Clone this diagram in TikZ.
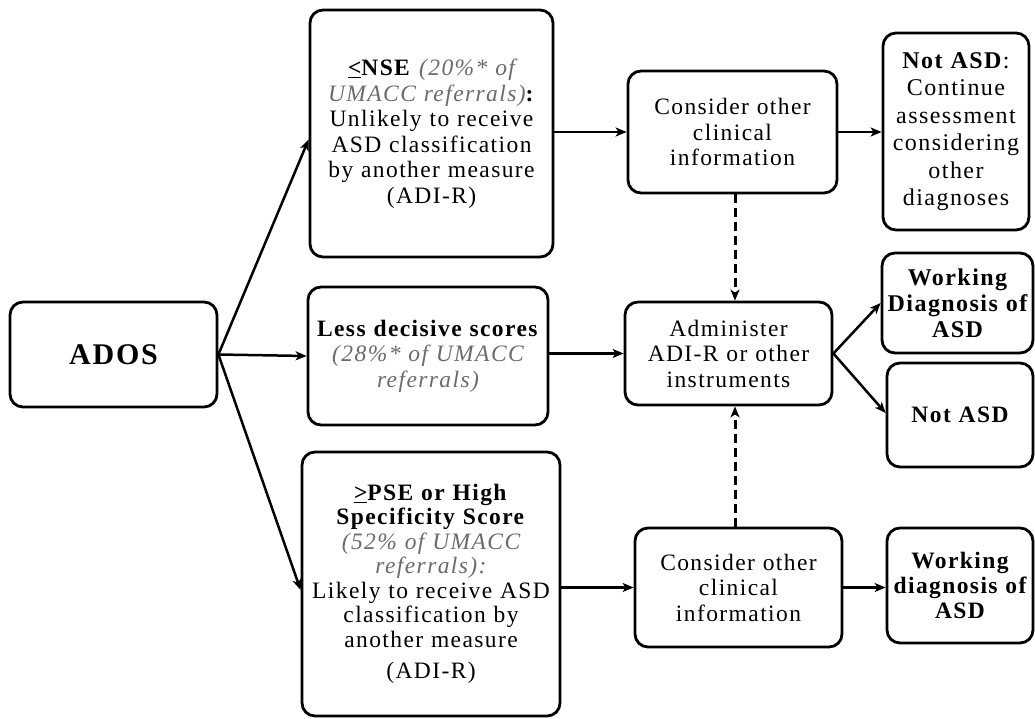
\documentclass[tikz,border=0pt]{standalone}
\usepackage{fontspec}
\setmainfont{Liberation Serif}[LetterSpace=6]
\usetikzlibrary{arrows.meta,calc}
\definecolor{tgray}{gray}{0.42}
\newcommand{\grit}{\color{tgray}\itshape}
\tikzset{
  box/.style={draw, line width=2.8pt, rounded corners=13pt, align=center, inner xsep=1pt, inner ysep=2pt, fill=white},
  arr/.style={line width=2.5pt, -{Stealth[length=11pt,width=9pt,inset=3pt]}},
  darr/.style={arr, line width=3pt, dash pattern=on 9pt off 5pt},
  txt/.style={font={\fontsize{23.5}{25.5}\selectfont}},
}
\begin{document}
\begin{tikzpicture}[x=1pt,y=-1pt]
\useasboundingbox (0,0) rectangle (1035,719);

\node[box, minimum width=207, minimum height=105, text width=200,
      font={\fontsize{30}{34}\selectfont\bfseries}] (ados) at (113.5,354.5) {ADOS};

\node[box, txt, minimum width=243, minimum height=247, text width=240] (nse) at (431.5,133.5)
  {\textbf{\underline{<}NSE} {\grit (20\%* of}\\
   {\grit UMACC referrals)}\textbf{:}\\
   Unlikely to receive\\ ASD classification\\ by another measure\\ (ADI-R)};

\node[box, txt, minimum width=240, minimum height=138, text width=236] (less) at (428,356)
  {\textbf{Less decisive scores}\\
   {\grit (28\%* of UMACC}\\
   {\grit referrals)}};

\node[box, font={\fontsize{23.5}{24.5}\selectfont}, minimum width=258, minimum height=264, text width=254] (pse) at (431,584)
  {\textbf{\underline{>}PSE or High}\\
   \textbf{Specificity Score}\\
   {\grit (52\% of UMACC}\\
   {\grit referrals):}\\
   Likely to receive ASD\\ classification by\\ another measure\\[7pt]
   (ADI-R)};

\node[box, txt, minimum width=209, minimum height=122, text width=205] (cons1) at (732.5,132)
  {Consider other\\ clinical\\ information};

\node[box, font={\fontsize{24}{27.5}\selectfont}, minimum width=146, minimum height=197, text width=144] (notasd1) at (956,131.5)
  {\textbf{Not ASD}:\\ Continue\\ assessment\\ considering\\ other\\ diagnoses};

\node[box, txt, minimum width=207, minimum height=103, text width=203] (admin) at (728.5,353.5)
  {Administer\\ ADI-R or other\\ instruments};

\node[box, font={\fontsize{24}{26}\selectfont\bfseries}, minimum width=151, minimum height=100, text width=149] (work1) at (957.5,303)
  {Working\\ Diagnosis of\\ ASD};

\node[box, font={\fontsize{23.5}{25}\selectfont\bfseries}, minimum width=146, minimum height=104, text width=144] (notasd2) at (960,415)
  {Not ASD};

\node[box, txt, minimum width=207, minimum height=119, text width=203] (cons2) at (738.5,587.5)
  {Consider other\\ clinical\\ information};

\node[box, font={\fontsize{23.5}{25}\selectfont\bfseries}, minimum width=146, minimum height=115, text width=144] (work2) at (960,585.5)
  {Working\\ diagnosis of\\ ASD};

\coordinate (dashx) at (735,0);

\draw[arr] (ados.east) -- ([yshift=-6pt]nse.west);
\draw[arr] (ados.east) -- (less.west);
\draw[arr] (ados.east) -- ([yshift=-6pt]pse.west);

\draw[arr] (nse.east |- cons1.west) -- (cons1.west);
\draw[arr] (less.east |- admin.west) -- (admin.west);
\draw[arr] (pse.east |- cons2.west) -- (cons2.west);

\draw[arr] (cons1.east) -- (cons1.east -| notasd1.west);
\draw[arr] (cons2.east) -- (cons2.east -| work2.west);

\draw[arr] (admin.east) -- (work1.west);
\draw[arr] (admin.east) -- ([yshift=2pt]notasd2.west);

\draw[darr] (cons1.south -| dashx) -- (admin.north -| dashx);
\draw[darr] (cons2.north -| dashx) -- (admin.south -| dashx);
\end{tikzpicture}
\end{document}
